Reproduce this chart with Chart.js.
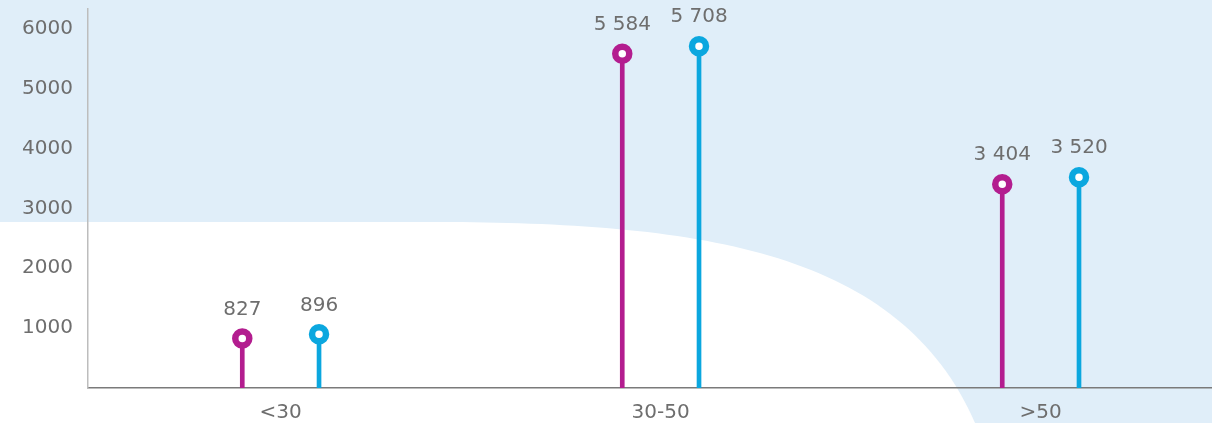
<!DOCTYPE html>
<html>
<head>
<meta charset="utf-8">
<script src="https://cdn.jsdelivr.net/npm/chart.js@4/dist/chart.umd.min.js"></script>
<style>
  html, body { margin: 0; padding: 0; background: #fff; }
  #wrap { width: 1212px; height: 423px; }
</style>
</head>
<body>
<div id="wrap"><canvas id="chart"></canvas></div>
<script>
var categories = ['<30', '30-50', '>50'];
var magentaValues = [827, 5584, 3404];
var cyanValues = [896, 5708, 3520];
var yTicks = [1000, 2000, 3000, 4000, 5000, 6000];

var magenta = '#b31d8f';
var cyan = '#0ba7df';
var textGray = '#6e6e6e';
var pairOffset = 0.101;

function toPoints(values, shift) {
	return values.map(function(v, i) { return {x: i + shift, y: v}; });
}

function spaced(v) {
	return String(v).replace(/\B(?=(\d{3})+(?!\d))/g, ' ');
}

// light blue backdrop with the white swoosh in the lower left
var backdrop = {
	id: 'backdrop',
	beforeDraw: function(chart) {
		var c = chart.ctx;
		c.save();
		c.fillStyle = '#e0eef9';
		c.fillRect(0, 0, chart.width, chart.height);
		c.fillStyle = '#ffffff';
		c.beginPath();
		c.moveTo(0, 222);
		c.lineTo(450, 222);
		c.bezierCurveTo(700, 224, 900, 250, 975, 423);
		c.lineTo(0, 423);
		c.closePath();
		c.fill();
		c.restore();
	}
};

// value labels above each circle
var valueLabels = {
	id: 'valueLabels',
	afterDatasetsDraw: function(chart) {
		var c = chart.ctx;
		c.save();
		c.font = '20px "DejaVu Sans"';
		c.fillStyle = textGray;
		c.textAlign = 'center';
		c.textBaseline = 'middle';
		chart.data.datasets.forEach(function(ds, di) {
			if (ds.type !== 'scatter') return;
			chart.getDatasetMeta(di).data.forEach(function(pt, i) {
				c.fillText(spaced(ds.data[i].y), pt.x, pt.y - 29);
			});
		});
		c.restore();
	}
};

var ctx = document.getElementById('chart').getContext('2d');

var chart = new Chart(ctx, {
	data: {
		datasets: [
			{type: 'scatter', data: toPoints(magentaValues, -pairOffset), order: 0,
				pointRadius: 7, pointBorderWidth: 6.5, pointBackgroundColor: '#fff', pointBorderColor: magenta},
			{type: 'scatter', data: toPoints(cyanValues, pairOffset), order: 0,
				pointRadius: 7, pointBorderWidth: 6.5, pointBackgroundColor: '#fff', pointBorderColor: cyan},
			{type: 'bar', data: toPoints(magentaValues, -pairOffset), order: 1,
				backgroundColor: magenta, barThickness: 4, grouped: false},
			{type: 'bar', data: toPoints(cyanValues, pairOffset), order: 1,
				backgroundColor: cyan, barThickness: 4, grouped: false}
		]
	},
	options: {
		responsive: true,
		maintainAspectRatio: false,
		animation: false,
		events: [],
		layout: { autoPadding: false, padding: { top: 9, right: 0, left: 0, bottom: 0 } },
		plugins: { legend: { display: false }, tooltip: { enabled: false } },
		scales: {
			x: {
				type: 'linear',
				offset: false,
				min: -0.507,
				max: 2.451,
				grid: { display: false, drawTicks: false },
				border: { display: true, color: '#7a7a7a', width: 1.5 },
				afterBuildTicks: function(axis) {
					axis.ticks = categories.map(function(c, i) { return {value: i}; });
				},
				afterFit: function(axis) {
					axis.height = 35;
					axis.paddingLeft = 0;
					axis.paddingRight = 0;
				},
				ticks: {
					padding: 13,
					color: textGray,
					font: { family: 'DejaVu Sans', size: 20 },
					callback: function(v) { return categories[v]; }
				}
			},
			y: {
				min: 0,
				max: 6330,
				grid: { display: false, drawTicks: false },
				border: { display: true, color: '#bdbdbd', width: 1.5 },
				afterBuildTicks: function(axis) {
					axis.ticks = yTicks.map(function(v) { return {value: v}; });
				},
				afterFit: function(axis) {
					axis.width = 88;
					axis.paddingTop = 0;
					axis.paddingBottom = 0;
				},
				ticks: {
					padding: 15,
					color: textGray,
					font: { family: 'DejaVu Sans', size: 20 },
					callback: function(v) { return String(v); }
				}
			}
		}
	},
	plugins: [backdrop, valueLabels]
});
</script>
</body>
</html>
